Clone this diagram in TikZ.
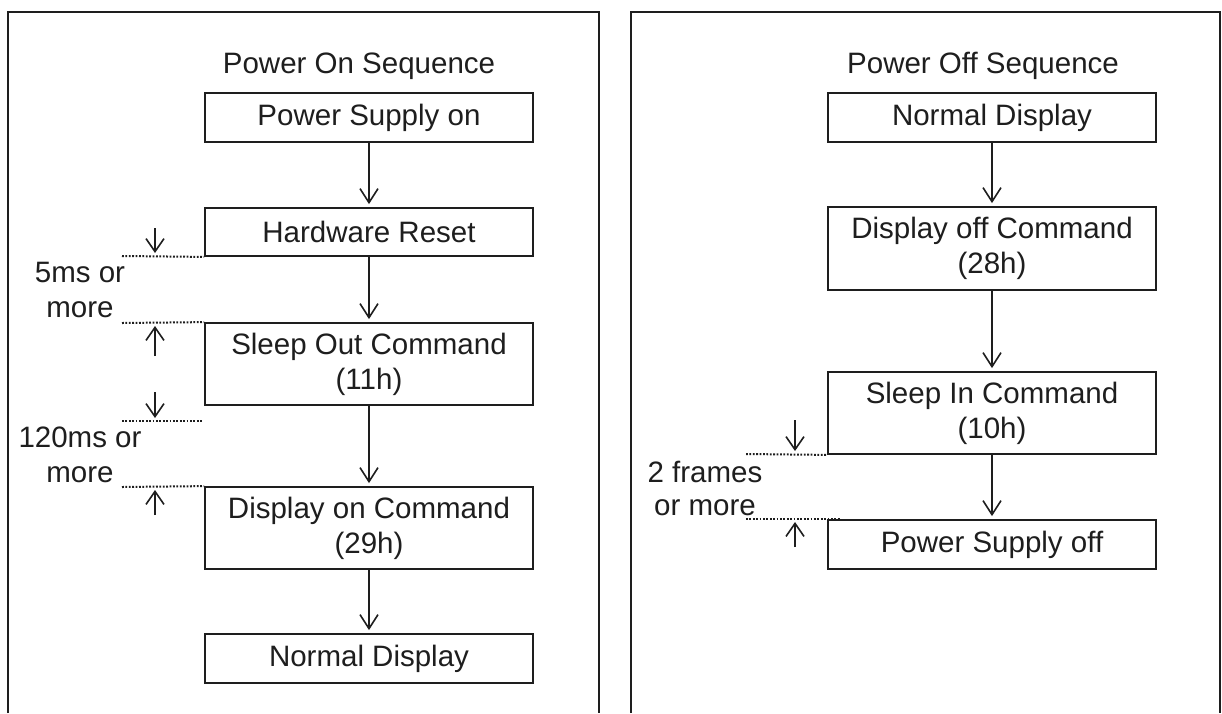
\documentclass[tikz,border=0pt]{standalone}
\usepackage{fontspec}
\setmainfont{Liberation Sans}
\usetikzlibrary{arrows.meta}
\definecolor{ink}{HTML}{1E1E1E}
\tikzset{
  stepbox/.style={draw=ink, line width=1.8pt, minimum width=328pt, inner sep=0pt, align=center, text=ink},
  flow/.style={draw=ink, line width=1.6pt, -{Straight Barb[length=14pt,width=18pt,line width=1.6pt]}, shorten >=3pt},
  tick/.style={draw=ink, line width=1.6pt, -{Straight Barb[length=13pt,width=18pt,line width=1.6pt]}},
  dotline/.style={draw=ink, line width=2pt, dash pattern=on 1.8pt off 1.6pt},
  frame/.style={draw=ink, line width=1.8pt},
  lbl/.style={align=center, text=ink, inner sep=0pt},
}
\begin{document}
\begin{tikzpicture}[x=1pt, y=-1pt, font=\fontsize{29.5}{35}\selectfont]
\useasboundingbox (0,0) rectangle (1222,713);
\fill[white] (0,0) rectangle (1222,713);
% frames
\coordinate (fl1) at (8,713); \coordinate (fl2) at (8,12);
\coordinate (fl3) at (599,12); \coordinate (fl4) at (599,713);
\draw[frame] (fl1) -- (fl2) -- (fl3) -- (fl4);
\coordinate (fr1) at (631,713); \coordinate (fr2) at (631,12);
\coordinate (fr3) at (1220,12); \coordinate (fr4) at (1220,713);
\draw[frame] (fr1) -- (fr2) -- (fr3) -- (fr4);

% ---- Power On
\node[lbl, anchor=base] (t1) at (359,73) {Power On Sequence};
\node[stepbox, minimum height=49pt] (a1) at (369,117.5) {Power Supply on};
\node[stepbox, minimum height=48pt] (a2) at (369,232) {Hardware Reset};
\node[stepbox, minimum height=82pt] (a3) at (369,364) {Sleep Out Command\\(11h)};
\node[stepbox, minimum height=82pt] (a4) at (369,528) {Display on Command\\(29h)};
\node[stepbox, minimum height=49pt] (a5) at (369,658.5) {Normal Display};
\draw[flow] (a1) -- (a2);
\draw[flow] (a2) -- (a3);
\draw[flow] (a3) -- (a4);
\draw[flow] (a4) -- (a5);

\coordinate (d1) at (122,256);
\coordinate (d2) at (122,323);
\coordinate (d3a) at (122,421); \coordinate (d3b) at (203,421);
\coordinate (d4) at (122,487);
\draw[dotline] (d1) -- (a2.south west);
\draw[dotline] (d2) -- (a3.north west);
\draw[dotline] (d3a) -- (d3b);
\draw[dotline] (d4) -- (a4.north west);

\coordinate (k1a) at (155,228); \coordinate (k1b) at (155,253);
\coordinate (k2a) at (155,356); \coordinate (k2b) at (155,326);
\coordinate (k3a) at (155,392); \coordinate (k3b) at (155,418);
\coordinate (k4a) at (155,515); \coordinate (k4b) at (155,490);
\draw[tick] (k1a) -- (k1b);
\draw[tick] (k2a) -- (k2b);
\draw[tick] (k3a) -- (k3b);
\draw[tick] (k4a) -- (k4b);

\node[lbl] (l1) at (80,290) {5ms or\\more};
\node[lbl] (l2) at (80,455) {120ms or\\more};

% ---- Power Off
\node[lbl, anchor=base] (t2) at (983,73) {Power Off Sequence};
\node[stepbox, minimum height=49pt] (b1) at (992,117.5) {Normal Display};
\node[stepbox, minimum height=83pt] (b2) at (992,248.5) {Display off Command\\(28h)};
\node[stepbox, minimum height=82pt] (b3) at (992,413) {Sleep In Command\\(10h)};
\node[stepbox, minimum height=49pt] (b4) at (992,544.5) {Power Supply off};
\draw[flow] (b1) -- (b2);
\draw[flow] (b2) -- (b3);
\draw[flow] (b3) -- (b4);

\coordinate (e1) at (746,454);
\coordinate (e2a) at (746,519); \coordinate (e2b) at (840,519);
\draw[dotline] (e1) -- (b3.south west);
\draw[dotline] (e2a) -- (e2b);
\coordinate (m1a) at (795,420); \coordinate (m1b) at (795,451);
\coordinate (m2a) at (795,547); \coordinate (m2b) at (795,522);
\draw[tick] (m1a) -- (m1b);
\draw[tick] (m2a) -- (m2b);
\node[lbl, font=\fontsize{29.5}{33}\selectfont] (l3) at (705,488) {2 frames\\or more};
\end{tikzpicture}
\end{document}
